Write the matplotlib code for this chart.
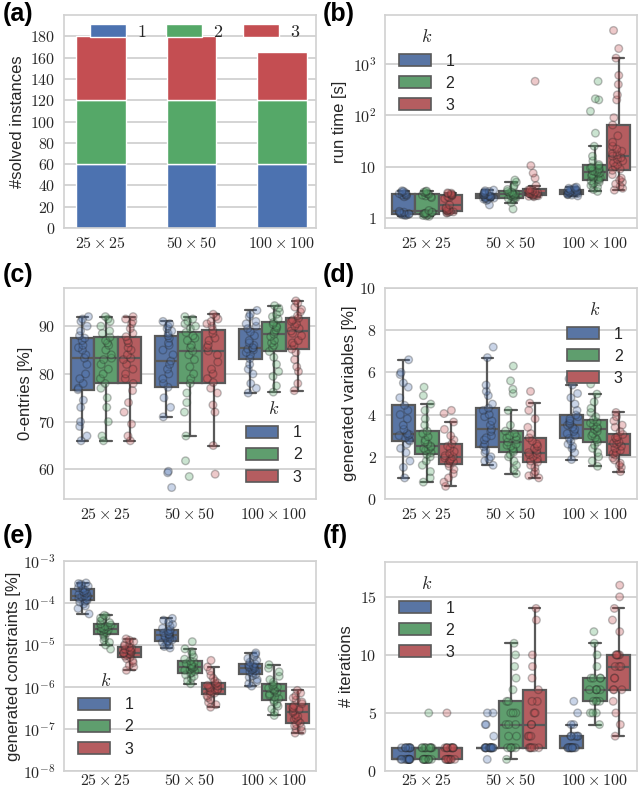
import numpy as np
import pandas as pd
import matplotlib
matplotlib.use('Agg')
import matplotlib.pyplot as plt
from matplotlib.patches import Patch
from matplotlib.ticker import FixedLocator, FuncFormatter, NullLocator
import seaborn as sns

SIZES = [r'$25 \times 25$', r'$50 \times 50$', r'$100 \times 100$']
KS = ['1', '2', '3']

# (a) number of solved instances per k (stacked)
SOLVED = {'1': [60, 60, 60], '2': [60, 60, 60], '3': [60, 60, 45]}

# (b) run time [s]; per size: [k=1, k=2, k=3]
RUN_TIME = {
    '25': [
        [1.12, 1.15, 1.16, 1.18, 1.2, 1.2, 1.22, 1.25, 1.28, 1.3, 1.35, 2.6, 2.7, 2.8, 2.85, 2.9, 3.0, 3.1, 3.2, 3.3, 3.4],
        [1.08, 1.1, 1.12, 1.15, 1.18, 1.2, 1.22, 1.25, 1.28, 1.3, 1.4, 2.5, 2.6, 2.7, 2.8, 2.9, 3.0, 3.1, 3.2, 3.3, 3.35],
        [1.25, 1.28, 1.3, 1.32, 1.35, 1.38, 1.4, 1.45, 1.5, 1.6, 1.8, 2.4, 2.5, 2.6, 2.7, 2.8, 2.85, 2.9, 3.0, 3.05, 3.1],
    ],
    '50': [
        [1.8, 2.2, 2.3, 2.35, 2.4, 2.45, 2.5, 2.55, 2.6, 2.65, 2.7, 2.75, 2.8, 2.85, 2.9, 3.0, 3.1, 3.2, 3.3, 3.4, 3.5],
        [1.5, 2.0, 2.3, 2.4, 2.45, 2.5, 2.6, 2.7, 2.75, 2.8, 2.9, 3.0, 3.05, 3.1, 3.2, 3.3, 3.6, 4.0, 4.3, 5.0, 5.5],
        [2.6, 2.65, 2.7, 2.72, 2.75, 2.8, 2.85, 2.9, 3.0, 3.05, 3.1, 3.2, 3.3, 3.4, 3.5, 3.6, 4.3, 6.0, 7.5, 10.5, 460],
    ],
    '100': [
        [2.7, 2.8, 2.85, 2.9, 2.95, 3.0, 3.05, 3.1, 3.15, 3.2, 3.25, 3.3, 3.35, 3.4, 3.5, 3.6, 3.7, 3.8, 3.9, 4.0],
        [3.3, 3.6, 4.0, 4.3, 4.6, 4.8, 5.0, 5.3, 5.5, 5.8, 6.0, 6.2, 6.6, 7.0, 7.3, 7.6, 7.8, 8.0, 8.3, 8.7, 9.2,
         9.5, 9.8, 10.3, 11.0, 13, 16, 25, 45, 120, 200, 210, 460],
        [3.5, 3.8, 4.2, 4.6, 5.0, 5.5, 6.0, 7.0, 8.5, 9.0, 10, 11, 12, 13, 14, 15, 16, 17, 18, 20, 22, 25, 30, 40,
         65, 90, 200, 250, 400, 600, 1300, 2000, 4500],
    ],
}

# (c) 0-entries [%]
ZERO_ENTRIES = {
    '25': [
        [66, 67, 69, 70, 73, 74.5, 76.7, 77, 78, 79, 80, 82, 83.3, 84, 85, 85.5, 86, 87, 87.5, 88, 89, 90, 91, 91.5, 92],
        [66, 67, 70, 73, 75, 77, 78, 79, 80, 81, 82, 83, 83.3, 84, 85, 86, 86.5, 87, 87.7, 88.5, 89, 90, 91, 91.5, 92],
        [66, 67, 69.5, 72, 74, 76.5, 78, 79, 80, 81, 82, 83, 83.3, 84, 85, 85.5, 86.5, 87, 87.8, 88.5, 89.5, 90.5, 91, 91.5, 92],
    ],
    '50': [
        [56.2, 59.3, 59.6, 71, 73, 75, 77.2, 78, 79, 80, 81, 82, 82.7, 84, 85, 86, 86.5, 87.5, 88, 88.5, 89, 89.5, 90, 90.5, 91],
        [58.5, 61.8, 67, 72, 74, 76, 78, 79, 80, 81.5, 83, 84, 84.8, 85.5, 86, 87, 87.5, 88, 88.7, 89.5, 90, 90.5, 91, 91.5, 92],
        [59, 65, 72, 73.5, 76, 77, 78.2, 79, 80, 81, 82.5, 84, 84.8, 85.5, 86, 87, 87.5, 88.5, 89.2, 90, 90.5, 91, 91.5, 92, 92.5],
    ],
    '100': [
        [76, 77, 78, 80, 81, 82, 83.2, 84, 84.5, 85, 85.2, 85.4, 85.5, 86, 86.5, 87, 88, 88.8, 89.5, 90, 90.5, 91, 92, 92.5, 93.3],
        [76.2, 77.5, 79.5, 80.5, 82, 83.5, 84.7, 85.5, 86, 86.5, 87, 87.8, 88.3, 88.8, 89.2, 89.7, 90, 90.4, 90.8, 91.5, 92, 92.5, 93, 93.8, 94.3],
        [76.5, 78, 80.5, 81.5, 83, 84.5, 85.2, 86, 86.5, 87, 88, 88.5, 89, 89.5, 90, 90.5, 91, 91.3, 91.7, 92.2, 93, 93.5, 94, 94.8, 95.3],
    ],
}

# (d) generated variables [%]
GEN_VARS = {
    '25': [
        [1.0, 1.5, 1.8, 2.2, 2.4, 2.6, 2.75, 2.8, 2.9, 3.0, 3.0, 3.05, 3.1, 3.3, 3.5, 3.8, 4.0, 4.2, 4.44, 4.8, 5.3, 5.5, 5.9, 6.0, 6.6],
        [0.8, 1.0, 1.3, 1.6, 1.8, 2.0, 2.11, 2.2, 2.3, 2.35, 2.4, 2.45, 2.5, 2.6, 2.7, 2.8, 2.95, 3.1, 3.22, 3.5, 3.8, 4.2, 4.5, 4.9, 5.3],
        [0.6, 0.8, 1.0, 1.2, 1.4, 1.55, 1.68, 1.75, 1.8, 1.85, 1.9, 1.95, 2.0, 2.05, 2.15, 2.25, 2.4, 2.5, 2.62, 2.8, 3.0, 3.3, 3.65, 4.05, 4.2],
    ],
    '50': [
        [1.6, 1.8, 1.9, 2.0, 2.2, 2.3, 2.48, 2.6, 2.8, 2.9, 3.0, 3.2, 3.3, 3.5, 3.7, 3.9, 4.0, 4.2, 4.3, 4.5, 4.9, 5.1, 5.4, 6.7, 7.2],
        [1.2, 1.4, 1.6, 1.8, 2.0, 2.1, 2.22, 2.3, 2.4, 2.5, 2.55, 2.6, 2.7, 2.8, 2.9, 2.95, 3.0, 3.1, 3.22, 3.5, 4.2, 5.0, 5.2, 5.6, 6.3],
        [1.0, 1.1, 1.2, 1.3, 1.5, 1.6, 1.75, 1.8, 1.9, 2.0, 2.1, 2.15, 2.2, 2.3, 2.4, 2.5, 2.6, 2.75, 2.9, 3.1, 3.4, 3.8, 4.2, 4.54, 5.1],
    ],
    '100': [
        [1.87, 2.2, 2.4, 2.5, 2.6, 2.75, 2.87, 3.0, 3.1, 3.2, 3.3, 3.4, 3.5, 3.55, 3.6, 3.7, 3.8, 3.9, 3.98, 4.2, 4.5, 4.8, 5.0, 5.4, 5.7],
        [1.55, 1.8, 2.0, 2.2, 2.4, 2.55, 2.7, 2.8, 2.9, 3.0, 3.1, 3.2, 3.3, 3.35, 3.4, 3.5, 3.6, 3.65, 3.75, 3.9, 4.1, 4.3, 4.6, 4.97, 5.45],
        [1.3, 1.5, 1.6, 1.7, 1.85, 1.95, 2.08, 2.15, 2.2, 2.3, 2.4, 2.5, 2.6, 2.65, 2.7, 2.8, 2.9, 2.95, 3.06, 3.2, 3.4, 3.5, 3.7, 3.9, 4.1],
    ],
}

# (e) generated constraints [%]
GEN_CONS = {
    '25': [
        [5.5e-5, 7.4e-5, 8.5e-5, 9.5e-5, 1.05e-4, 1.1e-4, 1.15e-4, 1.2e-4, 1.3e-4, 1.35e-4, 1.4e-4, 1.45e-4, 1.5e-4,
         1.6e-4, 1.7e-4, 1.8e-4, 1.9e-4, 2.0e-4, 2.2e-4, 2.3e-4, 2.5e-4, 2.6e-4, 2.8e-4, 2.9e-4, 3.0e-4],
        [8e-6, 1.0e-5, 1.15e-5, 1.3e-5, 1.5e-5, 1.7e-5, 1.86e-5, 1.95e-5, 2.05e-5, 2.15e-5, 2.25e-5, 2.3e-5, 2.4e-5,
         2.5e-5, 2.6e-5, 2.7e-5, 2.8e-5, 3.0e-5, 3.2e-5, 3.4e-5, 3.7e-5, 4.0e-5, 4.4e-5, 4.8e-5, 5.1e-5],
        [2.5e-6, 3.0e-6, 3.3e-6, 3.8e-6, 4.2e-6, 4.7e-6, 5.1e-6, 5.4e-6, 5.7e-6, 6.0e-6, 6.2e-6, 6.4e-6, 6.5e-6,
         6.8e-6, 7.1e-6, 7.5e-6, 7.9e-6, 8.4e-6, 8.9e-6, 9.5e-6, 1.02e-5, 1.1e-5, 1.2e-5, 1.3e-5, 1.4e-5],
    ],
    '50': [
        [8.5e-6, 9.2e-6, 1.0e-5, 1.08e-5, 1.15e-5, 1.2e-5, 1.25e-5, 1.32e-5, 1.4e-5, 1.48e-5, 1.55e-5, 1.62e-5, 1.7e-5,
         1.78e-5, 1.85e-5, 1.95e-5, 2.05e-5, 2.15e-5, 2.3e-5, 2.5e-5, 2.8e-5, 3.1e-5, 3.5e-5, 3.9e-5, 4.3e-5],
        [1.2e-6, 1.4e-6, 1.6e-6, 1.8e-6, 1.95e-6, 2.1e-6, 2.2e-6, 2.35e-6, 2.5e-6, 2.65e-6, 2.8e-6, 2.9e-6, 3.0e-6,
         3.1e-6, 3.25e-6, 3.4e-6, 3.6e-6, 3.9e-6, 4.2e-6, 4.6e-6, 5.2e-6, 6.0e-6, 7.0e-6, 8.1e-6, 1.2e-5],
        [3.3e-7, 3.8e-7, 4.3e-7, 5.0e-7, 5.6e-7, 6.2e-7, 6.8e-7, 7.2e-7, 7.6e-7, 8.0e-7, 8.4e-7, 8.7e-7, 9.0e-7,
         9.4e-7, 9.9e-7, 1.05e-6, 1.1e-6, 1.18e-6, 1.26e-6, 1.4e-6, 1.6e-6, 1.9e-6, 2.4e-6, 3.0e-6, 4.3e-6],
    ],
    '100': [
        [1.05e-6, 1.2e-6, 1.35e-6, 1.5e-6, 1.7e-6, 1.85e-6, 2.0e-6, 2.15e-6, 2.3e-6, 2.45e-6, 2.55e-6, 2.65e-6, 2.8e-6,
         2.9e-6, 3.0e-6, 3.1e-6, 3.25e-6, 3.4e-6, 3.6e-6, 3.9e-6, 4.3e-6, 4.8e-6, 5.3e-6, 5.9e-6, 6.5e-6],
        [2.1e-7, 2.5e-7, 3.0e-7, 3.5e-7, 3.9e-7, 4.4e-7, 4.8e-7, 5.3e-7, 5.8e-7, 6.3e-7, 6.8e-7, 7.4e-7, 8.0e-7,
         8.5e-7, 8.9e-7, 9.4e-7, 1.0e-6, 1.07e-6, 1.15e-6, 1.3e-6, 1.5e-6, 1.8e-6, 2.3e-6, 2.8e-6, 3.4e-6],
        [8e-8, 9e-8, 1.0e-7, 1.1e-7, 1.2e-7, 1.3e-7, 1.4e-7, 1.55e-7, 1.7e-7, 1.85e-7, 2.0e-7, 2.2e-7, 2.5e-7,
         2.7e-7, 2.9e-7, 3.1e-7, 3.3e-7, 3.6e-7, 4.0e-7, 4.4e-7, 4.9e-7, 5.5e-7, 6.2e-7, 7.2e-7, 8.3e-7],
    ],
}

# (f) number of iterations
ITERATIONS = {
    '25': [
        [1, 1, 1, 1, 1, 1, 1, 1, 1, 1, 1, 1, 2, 2, 2, 2, 2, 2, 2, 2, 2],
        [1, 1, 1, 1, 1, 1, 1, 1, 1, 1, 2, 2, 2, 2, 2, 2, 2, 2, 2, 2, 5],
        [1, 1, 1, 1, 1, 1, 1, 1, 1, 1, 2, 2, 2, 2, 2, 2, 2, 2, 2, 2, 5],
    ],
    '50': [
        [1, 2, 2, 2, 2, 2, 2, 2, 2, 2, 2, 2, 2, 2, 2, 2, 3, 4, 4, 5, 5],
        [1, 2, 2, 2, 2, 2, 3, 3, 4, 4, 4, 5, 5, 5, 6, 6, 7, 8, 9, 10, 11],
        [2, 2, 2, 2, 2, 2, 3, 3, 3, 4, 4, 5, 5, 6, 6, 7, 8, 9, 10, 13, 14],
    ],
    '100': [
        [2, 2, 2, 2, 2, 2, 2, 2, 2, 2, 2, 3, 3, 3, 3, 3, 3, 4, 4, 5, 6],
        [4, 5, 5, 5, 6, 6, 6, 6, 7, 7, 7, 7, 7, 8, 8, 8, 8, 9, 10, 11, 12],
        [3, 4, 5, 6, 7, 7, 7, 8, 8, 9, 9, 9, 10, 10, 10, 10, 10, 12, 13, 14, 15, 16],
    ],
}

COLORS = ['#4C72B0', '#55A868', '#C44E52']
PAL = dict(zip(KS, COLORS))
LINE = '0.35'
W, H = 640, 791

sns.set_theme(style='whitegrid')
plt.rcParams['font.family'] = ['Liberation Sans', 'DejaVu Sans']
plt.rcParams['mathtext.fontset'] = 'cm'
plt.rcParams['axes.edgecolor'] = '0.82'
plt.rcParams['grid.color'] = '0.82'
plt.rcParams['grid.linewidth'] = 1.3
plt.rcParams['axes.linewidth'] = 1.2
np.random.seed(3)


def to_frame(d):
    rows = []
    for size, key in zip(SIZES, ['25', '50', '100']):
        for k, vals in zip(KS, d[key]):
            for v in vals:
                rows.append((size, k, v))
    return pd.DataFrame(rows, columns=['size', 'k', 'val'])


def make_ax(fig, left, top, right, bottom):
    return fig.add_axes([left / W, 1 - bottom / H, (right - left) / W, (bottom - top) / H])


def lin_fmt(v, pos):
    return r'$%g$' % v


def log_fmt(v, pos):
    e = int(round(np.log10(v)))
    if e == 0:
        return r'$1$'
    if e == 1:
        return r'$10$'
    return r'$10^{%d}$' % e


def box_panel(ax, data, log=False, xpad=6):
    df = to_frame(data)
    kw = dict(data=df, x='size', y='val', hue='k', order=SIZES, hue_order=KS,
              palette=PAL, ax=ax, legend=False)
    if log:
        kw['log_scale'] = True
    sns.boxplot(**kw, showfliers=False, width=0.84, linewidth=1.6,
                linecolor=LINE, saturation=0.75)
    sns.stripplot(**kw, dodge=True, jitter=0.2, size=5.5, alpha=0.3,
                  linewidth=1, edgecolor='0.15')
    ax.set_xlabel('')
    ax.set_xlim(-0.5, 2.5)
    ax.xaxis.grid(False)
    ax.tick_params(axis='both', labelsize=11.5, colors='0.15', length=0, pad=6)
    ax.tick_params(axis='x', pad=xpad)


def k_legend(ax, loc):
    handles = [Patch(facecolor=sns.desaturate(c, 0.75), edgecolor=LINE, linewidth=1.2)
               for c in COLORS]
    leg = ax.legend(handles, KS, title=r'$k$', loc=loc, frameon=False,
                    fontsize=11.5, title_fontsize=13, handlelength=2.0,
                    handleheight=0.8, handletextpad=0.9, labelspacing=0.45)
    return leg


fig = plt.figure(figsize=(W / 100, H / 100), dpi=100)

# (a)
ax = make_ax(fig, 64, 15, 316, 228)
x = np.arange(len(SIZES))
bottom = np.zeros(len(SIZES))
for k, c in zip(KS, COLORS):
    ax.bar(x, SOLVED[k], 0.55, bottom=bottom, color=c, label=r'$%s$' % k, zorder=2)
    bottom += np.array(SOLVED[k])
ax.set_xticks(x)
ax.set_xticklabels(SIZES)
ax.set_xlim(-0.41, 2.38)
ax.set_ylim(0, 200)
ax.yaxis.set_major_locator(FixedLocator(np.arange(0, 181, 20)))
ax.yaxis.set_major_formatter(FuncFormatter(lin_fmt))
ax.xaxis.grid(False)
ax.tick_params(axis='both', labelsize=11.5, colors='0.15', length=0, pad=6)
ax.set_ylabel('#solved instances', fontsize=12)
ax.legend(loc='upper center', bbox_to_anchor=(0.52, 1.035), ncol=3, frameon=False,
          fontsize=13, handlelength=2.0, handleheight=0.75, handletextpad=0.6,
          columnspacing=1.1)

# (b)
ax = make_ax(fig, 385, 15, 637, 228)
box_panel(ax, RUN_TIME, log=True)
ax.set_ylim(0.64, 9000)
ax.yaxis.set_major_locator(FixedLocator([1, 10, 100, 1000]))
ax.yaxis.set_major_formatter(FuncFormatter(log_fmt))
ax.yaxis.set_minor_locator(NullLocator())
ax.set_ylabel('run time [s]', fontsize=12)
k_legend(ax, 'upper left')

# (c)
ax = make_ax(fig, 64, 288, 316, 499)
box_panel(ax, ZERO_ENTRIES)
ax.set_ylim(53.8, 98)
ax.yaxis.set_major_locator(FixedLocator([60, 70, 80, 90]))
ax.yaxis.set_major_formatter(FuncFormatter(lin_fmt))
ax.set_ylabel('0-entries [%]', fontsize=12)
k_legend(ax, 'lower right')

# (d)
ax = make_ax(fig, 385, 288, 637, 499)
box_panel(ax, GEN_VARS)
ax.set_ylim(0, 10)
ax.yaxis.set_major_locator(FixedLocator([0, 2, 4, 6, 8, 10]))
ax.yaxis.set_major_formatter(FuncFormatter(lin_fmt))
ax.set_ylabel('generated variables [%]', fontsize=12, labelpad=2)
k_legend(ax, 'upper right')

# (e)
ax = make_ax(fig, 64, 561, 316, 771)
box_panel(ax, GEN_CONS, log=True, xpad=1.5)
ax.set_ylim(1e-8, 1e-3)
ax.yaxis.set_major_locator(FixedLocator([1e-8, 1e-7, 1e-6, 1e-5, 1e-4, 1e-3]))
ax.yaxis.set_major_formatter(FuncFormatter(log_fmt))
ax.yaxis.set_minor_locator(NullLocator())
ax.set_ylabel('generated constraints [%]', fontsize=12, labelpad=1)
k_legend(ax, 'lower left')

# (f)
ax = make_ax(fig, 385, 562, 637, 771)
box_panel(ax, ITERATIONS, xpad=1.5)
ax.set_ylim(0, 18)
ax.yaxis.set_major_locator(FixedLocator([0, 5, 10, 15]))
ax.yaxis.set_major_formatter(FuncFormatter(lin_fmt))
ax.set_ylabel('# iterations', fontsize=12)
k_legend(ax, 'upper left')

for lab, px, py in [('(a)', 3, 14), ('(b)', 323, 14), ('(c)', 3, 275),
                    ('(d)', 323, 275), ('(e)', 3, 536), ('(f)', 323, 536)]:
    fig.text(px / W, 1 - py / H, lab, fontsize=18, fontweight='bold',
             ha='left', va='center', color='black')

fig.savefig('out.png', dpi=100)
